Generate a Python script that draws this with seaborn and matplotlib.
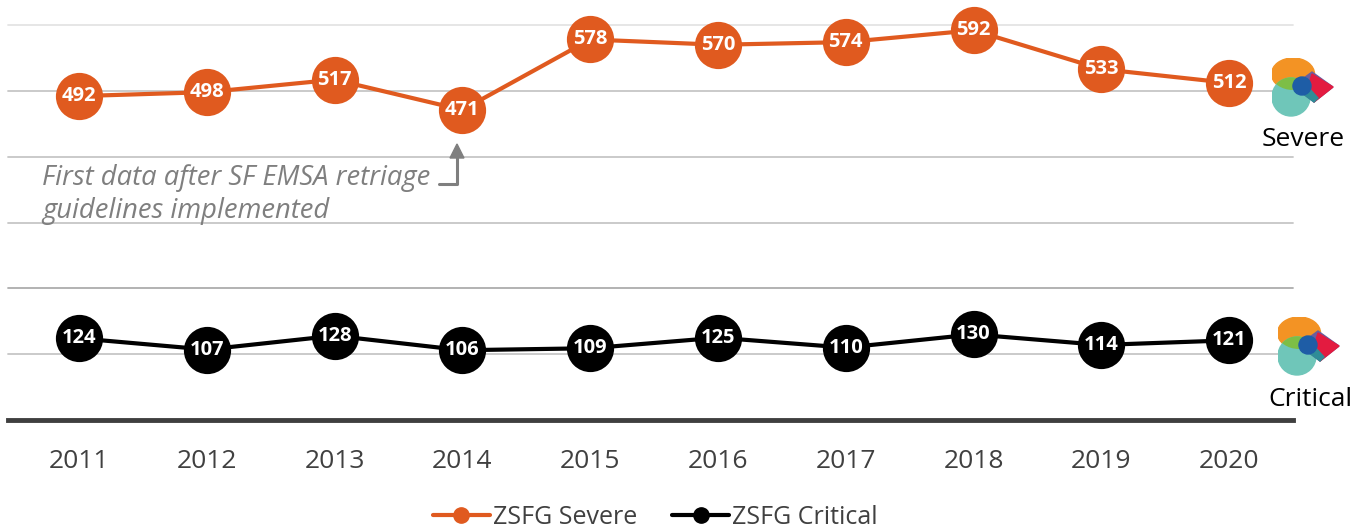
import matplotlib
matplotlib.use("Agg")
import matplotlib.pyplot as plt
import seaborn as sns
import pandas as pd
from matplotlib.patches import Ellipse, Polygon, Circle
from matplotlib.lines import Line2D

years = ["2011", "2012", "2013", "2014", "2015", "2016", "2017", "2018", "2019", "2020"]
severe = [492, 498, 517, 471, 578, 570, 574, 592, 533, 512]
critical = [124, 107, 128, 106, 109, 125, 110, 130, 114, 121]
series_names = ["ZSFG Severe", "ZSFG Critical"]
series_colors = ["#E05A1F", "#000000"]
y_grid = [100, 200, 300, 400, 500, 600]

sns.set_theme(style="white")
plt.rcParams["font.family"] = ["Open Sans", "DejaVu Sans"]

W, H = 1367, 529
fig = plt.figure(figsize=(W / 100, H / 100), dpi=100)
ax = fig.add_axes([8 / W, 1 - 420 / H, (1293 - 8) / W, (420 - 25) / H])

df = pd.DataFrame({
    "year": years * 2,
    "value": severe + critical,
    "series": [series_names[0]] * len(years) + [series_names[1]] * len(years),
})
df["x"] = list(range(len(years))) * 2

for g in y_grid:
    col = "#E4E4E4" if g == 600 else ("#ADADAD" if g == 200 else "#C6C6C6")
    ax.axhline(g, color=col, lw=1.3, zorder=0)

sns.lineplot(data=df, x="x", y="value", hue="series", palette=series_colors,
             hue_order=series_names, lw=3, marker="o", markersize=34,
             markeredgewidth=0, ax=ax, legend=False, zorder=3)
for ln in ax.lines:
    ln.set_clip_on(False)

for xi, v in enumerate(severe):
    ax.text(xi, v, str(v), ha="center", va="center", color="white",
            fontsize=14.5, fontweight="bold", zorder=5)
for xi, v in enumerate(critical):
    ax.text(xi, v, str(v), ha="center", va="center", color="white",
            fontsize=14.5, fontweight="bold", zorder=5)

ax.set_xlim(-0.556, 9.5)
ax.set_ylim(0, 600)
ax.set_xticks(range(len(years)))
ax.set_xticklabels(years, fontsize=19, color="#404040")
ax.tick_params(axis="x", length=0, pad=21)
ax.set_yticks([])
ax.set_xlabel("")
ax.set_ylabel("")
for s in ["top", "right", "left"]:
    ax.spines[s].set_visible(False)
ax.spines["bottom"].set_color("#3F3F3F")
ax.spines["bottom"].set_linewidth(3.5)

# annotation
fig.text(42 / W, 1 - 178 / H, "First data after SF EMSA retriage",
         fontsize=19.7, style="italic", color="#7F7F7F", va="center", ha="left")
fig.text(42 / W, 1 - 211 / H, "guidelines implemented",
         fontsize=19.7, style="italic", color="#7F7F7F", va="center", ha="left")
fig.add_artist(Line2D([439 / W, 457 / W, 457 / W],
                      [1 - 184 / H, 1 - 184 / H, 1 - 157 / H],
                      color="#7F7F7F", lw=2.2))
fig.add_artist(Polygon([[450 / W, 1 - 158 / H], [464 / W, 1 - 158 / H],
                        [457 / W, 1 - 144 / H]], closed=True,
                       color="#7F7F7F", transform=fig.transFigure))


def draw_logo(x0, y0):
    la = fig.add_axes([x0 / W, 1 - (y0 + 62) / H, 64 / W, 62 / H])
    la.set_xlim(0, 64)
    la.set_ylim(62, 0)
    la.axis("off")
    orange = Ellipse((21, 16), 43, 32, color="#F39324", zorder=1)
    la.add_patch(orange)
    teal = Ellipse((19, 39), 38, 38, color="#6FC6B9", zorder=2)
    la.add_patch(teal)
    green = Ellipse((19, 39), 38, 38, color="#7DBE46", zorder=3)
    la.add_patch(green)
    green.set_clip_path(orange)
    # diamond
    la.add_patch(Polygon([[21, 28], [40, 14], [61, 29], [42, 44]], color="#6A5E9E", zorder=4))
    la.add_patch(Polygon([[40, 16], [61, 29], [42, 44], [36, 29]], color="#E31B40", zorder=5))
    la.add_patch(Polygon([[22, 29], [36, 29], [46, 40], [42, 44]], color="#2F8C97", zorder=5))
    la.add_patch(Circle((30, 28), 9, color="#1E5DA6", zorder=6))


draw_logo(1272, 58)
draw_logo(1278, 317)

fig.text(1303 / W, 1 - 140 / H, "Severe", fontsize=19, color="#000000",
         ha="center", va="center")
fig.text(1310 / W, 1 - 400 / H, "Critical", fontsize=19, color="#000000",
         ha="center", va="center")

handles = [Line2D([], [], color=c, lw=3, marker="o", markersize=11) for c in series_colors]
fig.legend(handles, series_names, loc="center", bbox_to_anchor=(655 / W, 1 - 517 / H),
           ncol=2, frameon=False, fontsize=18, handlelength=2.3, handletextpad=0.1,
           columnspacing=1.4, labelcolor="#404040")

fig.savefig("out.png", dpi=100)
